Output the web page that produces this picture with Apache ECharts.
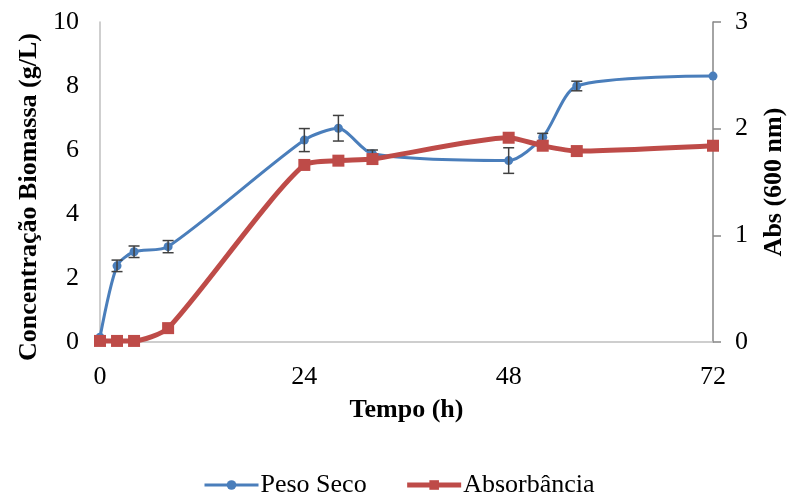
<!DOCTYPE html>
<html>
<head>
<meta charset="utf-8">
<script src="https://cdn.jsdelivr.net/npm/echarts@6/dist/echarts.min.js"></script>
<style>
  html, body { margin: 0; padding: 0; background: #fff; }
  #chart { width: 790px; height: 498px; }
</style>
</head>
<body>
<div id="chart"></div>
<script>
// Sampling times (h)
const tempo = [0, 2, 4, 8, 24, 28, 32, 48, 52, 56, 72];
// Dry weight (g/L) and its standard deviation
const pesoSeco = [0.15, 2.38, 2.82, 2.98, 6.31, 6.68, 5.88, 5.67, 6.40, 8.00, 8.31];
const pesoSecoErro = [0, 0.18, 0.18, 0.19, 0.36, 0.40, 0.12, 0.40, 0.12, 0.15, 0];
// Absorbance at 600 nm
const absorbancia = [0.01, 0.01, 0.01, 0.13, 1.66, 1.70, 1.715, 1.915, 1.84, 1.79, 1.84];
// Axis ticks
const xTicks = { min: 0, max: 72, interval: 24 };
const yLeftTicks = { min: 0, max: 10, interval: 2 };
const yRightTicks = { min: 0, max: 3, interval: 1 };

const FONT = '"Liberation Serif", "Times New Roman", serif';
const BLUE = '#4A7EBB';
const RED = '#BE4B48';

const pesoData = tempo.map((t, i) => [t, pesoSeco[i]]);
const absData = tempo.map((t, i) => [t, absorbancia[i]]);
const erroData = tempo.map((t, i) => [t, pesoSeco[i], pesoSecoErro[i]]);

const chart = echarts.init(document.getElementById('chart'), null, { renderer: 'canvas' });

chart.setOption({
  animation: false,
  backgroundColor: '#fff',
  grid: { left: 100, right: 77, top: 22, bottom: 156, containLabel: false, outerBoundsMode: 'none' },
  legend: {
    data: ['Peso Seco', 'Absorbância'],
    left: 198,
    top: 467,
    itemWidth: 54,
    itemHeight: 12,
    itemGap: 38,
    lineStyle: { width: 'inherit' },
    textStyle: { fontFamily: FONT, fontSize: 26, color: '#000', padding: [0, 0, 0, -3] }
  },
  xAxis: {
    type: 'value',
    min: xTicks.min, max: xTicks.max, interval: xTicks.interval,
    name: 'Tempo (h)',
    nameLocation: 'middle',
    nameGap: 55,
    nameTextStyle: { fontFamily: FONT, fontSize: 26, fontWeight: 'bold', color: '#000' },
    axisLine: { show: true, onZero: false, lineStyle: { color: '#BFBFBF', width: 1.5 } },
    axisTick: { show: false },
    splitLine: { show: false },
    axisLabel: { margin: 22, fontFamily: FONT, fontSize: 26, color: '#000' }
  },
  yAxis: [
    {
      type: 'value',
      position: 'left',
      min: yLeftTicks.min, max: yLeftTicks.max, interval: yLeftTicks.interval,
      name: 'Concentração Biomassa (g/L)',
      nameLocation: 'middle',
      nameGap: 57,
      nameTextStyle: { fontFamily: FONT, fontSize: 26, fontWeight: 'bold', color: '#000', padding: [0, 30, 0, 0] },
      axisLine: { show: true, lineStyle: { color: '#BFBFBF', width: 1.5 } },
      axisTick: { show: false },
      splitLine: { show: false },
      axisLabel: { margin: 21, fontFamily: FONT, fontSize: 26, color: '#000' }
    },
    {
      type: 'value',
      position: 'right',
      min: yRightTicks.min, max: yRightTicks.max, interval: yRightTicks.interval,
      name: 'Abs (600 nm)',
      nameLocation: 'middle',
      nameGap: 48,
      nameTextStyle: { fontFamily: FONT, fontSize: 26, fontWeight: 'bold', color: '#000' },
      axisLine: { show: true, lineStyle: { color: '#868686', width: 1.5 } },
      axisTick: { show: true, inside: false, length: 8, lineStyle: { color: '#868686', width: 1.5 } },
      splitLine: { show: false },
      axisLabel: { margin: 22, fontFamily: FONT, fontSize: 26, color: '#000' }
    }
  ],
  series: [
    {
      name: 'Peso Seco',
      type: 'line',
      yAxisIndex: 0,
      data: pesoData,
      smooth: 0.25,
      clip: false,
      symbol: 'circle',
      symbolSize: 9,
      z: 2,
      itemStyle: { color: BLUE },
      lineStyle: { color: BLUE, width: 3 }
    },
    {
      name: 'Erro',
      type: 'custom',
      yAxisIndex: 0,
      data: erroData,
      z: 3,
      clip: false,
      renderItem: function (params, api) {
        const t = api.value(0), v = api.value(1), e = api.value(2);
        if (!e) return null;
        const lo = api.coord([t, v - e]);
        const hi = api.coord([t, v + e]);
        const cap = 5.5;
        const style = { stroke: '#404040', lineWidth: 1.5 };
        return {
          type: 'group',
          children: [
            { type: 'line', shape: { x1: lo[0], y1: lo[1], x2: hi[0], y2: hi[1] }, style: style },
            { type: 'line', shape: { x1: lo[0] - cap, y1: lo[1], x2: lo[0] + cap, y2: lo[1] }, style: style },
            { type: 'line', shape: { x1: hi[0] - cap, y1: hi[1], x2: hi[0] + cap, y2: hi[1] }, style: style }
          ]
        };
      }
    },
    {
      name: 'Absorbância',
      type: 'line',
      yAxisIndex: 1,
      data: absData,
      smooth: 0.22,
      clip: false,
      symbol: 'rect',
      symbolSize: 12,
      z: 4,
      itemStyle: { color: RED },
      lineStyle: { color: RED, width: 5 }
    }
  ]
});
</script>
</body>
</html>
